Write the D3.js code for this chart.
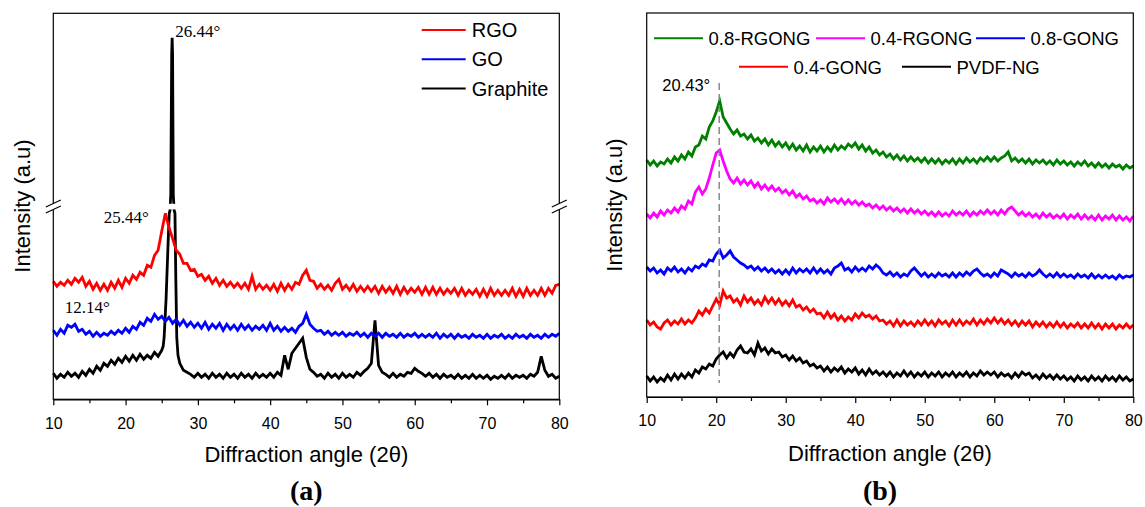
<!DOCTYPE html>
<html>
<meta charset="utf-8">
<script src="https://d3js.org/d3.v7.min.js"></script>
<style>
  body { margin: 0; background: #fff; }
  svg text { font-family: "Liberation Sans", Arial, sans-serif; fill: #000; }
</style>
<body>
<div id="chart"></div>
<script>

// every scan is sampled on the same 2θ grid: 10° to 80° in 0.5° steps
var angleStart = 10, angleStep = 0.5;
var majorTicks = [10, 20, 30, 40, 50, 60, 70, 80];
var minorTicks = [15, 25, 35, 45, 55, 65, 75];

// ---- (a) intensities (a.u.) ----
var rgo = [
  118,113,117,114,119,115,121,117,122,113,
  118,110,116,109,115,109,117,111,119,112,
  121,116,124,120,127,124,134,132,144,149,
  168,186,172,161,149,145,136,136,129,130,
  123,125,119,123,116,121,114,119,113,117,
  112,116,111,116,110,123,110,115,110,114,
  109,115,108,116,109,115,110,117,115,124,
  129,119,118,111,115,110,114,109,116,120,
  110,114,109,115,108,113,108,113,108,113,
  106,113,107,112,106,113,105,112,106,111,
  107,112,105,112,105,112,105,111,105,110,
  106,111,104,111,104,109,105,110,103,110,
  103,111,104,109,104,109,104,111,103,110,
  103,111,104,109,104,111,104,111,106,114,
  115
];
var go = [
  69,64,70,66,74,72,75,68,70,65,
  68,63,67,63,66,64,68,65,69,66,
  71,67,73,70,77,74,81,78,85,80,
  83,78,82,76,80,74,79,73,77,72,
  76,71,77,70,75,71,76,69,75,70,
  74,69,75,70,74,69,73,70,74,69,
  76,69,73,68,72,68,71,67,73,76,
  85,75,71,68,69,65,68,64,67,64,
  67,63,66,64,67,63,66,62,66,63,
  66,62,66,63,65,62,66,62,65,63,
  66,62,65,62,65,62,66,61,65,62,
  65,61,65,62,64,61,65,62,64,61,
  65,61,64,62,65,61,64,61,65,62,
  64,61,65,62,64,61,65,62,65,63,
  66
];
var graphite = [
  26,21,25,22,27,23,26,22,28,24,
  30,26,33,29,36,33,39,35,41,37,
  43,38,44,39,45,40,44,41,47,43,
  49,49,49,49,49,36,29,27,25,22,
  26,22,25,21,26,22,25,21,26,22,
  25,21,26,22,25,21,26,22,25,22,
  26,22,27,24,44,30,46,51,56,61,
  42,30,27,23,25,21,26,22,25,21,
  26,22,25,22,27,24,28,31,36,79,
  34,27,25,22,26,22,25,23,27,26,
  31,28,26,23,26,22,25,21,25,22,
  24,21,25,21,24,21,25,21,24,21,
  24,20,23,21,24,21,25,21,24,22,
  24,21,25,23,27,43,29,23,25,21,
  23
];
// sharp (002) graphite reflection, [2θ, intensity]; replaces the grid between 25.4° and 27.4°
var graphitePeak = [
  [25.2, 53], [25.33, 62], [25.6, 100], [25.85, 150], [26.04, 186], [26.15, 190],
  [26.25, 430], [26.38, 950], [26.44, 1010], [26.5, 950], [26.6, 430],
  [26.72, 190], [26.83, 186], [26.95, 120], [27.08, 62], [27.25, 44]
];

// ---- (b) ----
var rgong08 = [
  237,232,236,231,235,233,238,234,240,236,
  242,238,245,241,250,252,261,258,270,276,
  285,296,280,274,268,263,267,261,263,258,
  262,256,259,254,258,252,257,251,255,250,
  254,248,253,247,251,246,252,245,250,246,
  251,245,250,246,252,247,251,248,253,250,
  254,248,252,246,250,244,247,242,245,240,
  243,238,242,237,241,236,240,236,239,235,
  239,234,238,234,238,233,237,234,238,233,
  238,234,239,235,238,234,239,236,240,236,
  240,236,239,241,245,236,239,235,238,234,
  238,233,237,234,237,233,236,232,237,233,
  236,232,235,231,235,232,236,231,234,230,
  234,230,233,229,233,230,232,228,232,229,
  231
];
var rgong04 = [
  183,179,184,180,186,182,187,184,189,185,
  191,188,196,193,205,210,203,208,219,232,
  244,247,236,226,218,214,219,213,217,212,
  216,210,214,208,212,207,211,206,209,204,
  207,202,206,200,203,198,201,196,198,194,
  197,193,199,195,198,194,198,193,197,193,
  196,192,195,191,193,189,192,188,191,187,
  190,186,189,185,188,184,188,184,187,183,
  186,182,185,181,185,181,184,181,186,182,
  185,182,186,181,185,182,186,183,187,183,
  186,182,187,183,188,190,186,182,185,181,
  184,180,183,179,184,180,183,179,182,179,
  183,178,182,179,183,178,182,178,181,177,
  182,177,181,178,182,177,181,177,180,176,
  181
];
var gong08 = [
  130,126,129,124,127,123,129,126,130,125,
  128,124,129,126,131,129,133,131,137,136,
  143,147,139,142,146,140,137,134,132,129,
  131,127,130,126,129,125,128,124,127,123,
  127,123,129,124,128,125,128,124,129,124,
  128,124,127,123,129,131,134,127,129,125,
  130,126,129,126,131,128,132,129,124,122,
  125,121,124,120,123,121,126,129,125,121,
  124,120,123,120,124,121,123,120,124,120,
  124,121,125,122,126,128,124,121,123,120,
  124,121,127,125,123,120,124,121,123,120,
  124,121,123,127,123,120,123,120,124,120,
  123,120,122,119,123,120,122,119,123,119,
  122,119,122,119,121,118,122,119,121,120,
  122
];
var gong04 = [
  77,72,75,70,68,74,77,72,76,73,
  78,73,77,74,79,86,82,88,84,91,
  98,92,106,99,101,95,98,92,101,95,
  99,93,97,92,100,94,99,93,98,92,
  96,91,97,90,92,87,90,85,88,83,
  84,79,85,79,83,77,81,76,80,77,
  83,79,84,80,82,78,81,76,77,73,
  76,71,77,71,76,72,75,71,76,72,
  77,72,76,71,77,73,76,71,77,72,
  77,72,76,73,78,72,77,73,78,74,
  79,74,78,73,77,72,76,71,76,72,
  76,70,75,71,75,70,74,70,75,70,
  74,69,73,70,74,69,73,69,74,69,
  73,68,73,69,73,68,72,69,73,69,
  72
];
var pvdfng = [
  21,16,20,15,19,16,22,17,23,18,
  23,19,24,20,27,24,30,28,33,31,
  38,42,45,39,44,40,47,51,45,44,
  48,42,54,46,49,43,48,44,45,40,
  42,37,41,36,39,34,36,31,33,29,
  31,26,30,25,29,26,30,24,28,25,
  29,23,27,22,28,23,26,22,25,21,
  25,20,24,21,26,21,25,20,24,21,
  25,20,24,21,25,20,24,21,25,20,
  24,21,25,20,24,21,26,22,25,22,
  25,20,24,21,23,19,24,20,25,22,
  24,19,22,18,23,19,22,18,22,18,
  21,17,20,16,21,17,20,16,21,17,
  20,16,21,17,20,16,21,17,20,16,
  18
];

var namesA = ["RGO", "GO", "Graphite"];
var colorsA = ["#ff0000", "#0000ff", "#000000"];
var namesB = ["0.8-RGONG", "0.4-RGONG", "0.8-GONG", "0.4-GONG", "PVDF-NG"];
var colorsB = ["#008000", "#ff00ff", "#0000ff", "#ff0000", "#000000"];

function toPoints(values) {
  return values.map(function(v, i) { return [angleStart + i * angleStep, v]; });
}

var graphitePts = toPoints(graphite)
  .filter(function(d) { return d[0] < 25.1 || d[0] > 27.4; })
  .concat(graphitePeak)
  .sort(function(a, b) { return a[0] - b[0]; });

var seriesA = [toPoints(rgo), toPoints(go), graphitePts];
var seriesB = [toPoints(rgong08), toPoints(rgong04), toPoints(gong08), toPoints(gong04), toPoints(pvdfng)];

var svg = d3.select("#chart").append("svg")
  .attr("width", 1145)
  .attr("height", 507);

// scales: panel (a) has a broken y axis
var xA = d3.scaleLinear().domain([10, 80]).range([53.3, 559.3]);
var yA = d3.scaleLinear().domain([0, 189, 400, 1100]).range([399.3, 210.3, 203, 13.3]);
var xB = d3.scaleLinear().domain([10, 80]).range([646.7, 1133.3]);
var yB = d3.scaleLinear().domain([0, 384]).range([397, 13]);

function drawLines(series, colors, x, y) {
  var line = d3.line().x(function(d) { return x(d[0]); }).y(function(d) { return y(d[1]); });
  svg.append("g").selectAll("path")
    .data(series.slice().reverse())
    .enter().append("path")
      .attr("d", line)
      .attr("fill", "none")
      .attr("stroke", function(d, i) { return colors[series.length - 1 - i]; })
      .attr("stroke-width", 2.8)
      .attr("stroke-linejoin", "miter");
}

function drawAxis(x, y) {
  var bottom = y.range()[0];
  var g = svg.append("g").attr("transform", "translate(0," + bottom + ")");
  g.call(d3.axisBottom(x).tickValues(majorTicks).tickSize(6).tickSizeOuter(0).tickPadding(12));
  g.selectAll("text").attr("font-size", 16).attr("font-family", "Liberation Sans, Arial, sans-serif");
  g.selectAll("line, path").attr("stroke", "#000").attr("stroke-width", 1.2);
  var m = svg.append("g").attr("transform", "translate(0," + bottom + ")");
  m.call(d3.axisBottom(x).tickValues(minorTicks).tickSize(4).tickSizeOuter(0).tickFormat(""));
  m.selectAll("line").attr("stroke", "#000").attr("stroke-width", 1.2);
  m.select(".domain").remove();

  var r = x.range(), top = y.range()[y.range().length - 1];
  svg.append("rect")
    .attr("x", r[0]).attr("y", top)
    .attr("width", r[1] - r[0]).attr("height", bottom - top)
    .attr("fill", "none").attr("stroke", "#000").attr("stroke-width", 1.2);
}

// ---------- panel (a) ----------
drawLines(seriesA, colorsA, xA, yA);

// gap in the plot where the intensity axis is broken
svg.append("rect")
  .attr("x", xA(10) + 1).attr("y", 203.8)
  .attr("width", xA(80) - xA(10) - 2).attr("height", 5.6)
  .attr("fill", "#fff");

drawAxis(xA, yA);

// break marks on both sides
[xA(10), xA(80)].forEach(function(x0) {
  svg.append("rect").attr("x", x0 - 2).attr("y", 203.5).attr("width", 4).attr("height", 6).attr("fill", "#fff");
  [203.5, 209.5].forEach(function(yy) {
    svg.append("line")
      .attr("x1", x0 - 7.5).attr("y1", yy + 3.5)
      .attr("x2", x0 + 7.5).attr("y2", yy - 3.5)
      .attr("stroke", "#000").attr("stroke-width", 1.2);
  });
});

// peak labels
var serif = "Liberation Serif, Times New Roman, serif";
svg.append("text").attr("x", xA(26.44) + 3).attr("y", yA(1010) - 1)
  .style("font-family", serif).attr("font-size", 17).text("26.44°");
svg.append("text").attr("x", xA(25.44) - 16).attr("y", yA(186) + 10)
  .attr("text-anchor", "end")
  .style("font-family", serif).attr("font-size", 17).text("25.44°");
svg.append("text").attr("x", xA(12.14) - 4).attr("y", yA(74) - 12)
  .style("font-family", serif).attr("font-size", 17).text("12.14°");

// legend (a)
namesA.forEach(function(name, i) {
  var yy = 30 + i * 29.2;
  svg.append("line").attr("x1", 421.7).attr("x2", 465.7).attr("y1", yy).attr("y2", yy)
    .attr("stroke", colorsA[i]).attr("stroke-width", 2);
  svg.append("text").attr("x", 471.7).attr("y", yy + 7.2).attr("font-size", 20).text(name);
});

// axis titles (a)
svg.append("text").attr("x", 306.3).attr("y", 461.5).attr("text-anchor", "middle")
  .attr("font-size", 22).text("Diffraction angle (2θ)");
svg.append("text").attr("transform", "translate(30,206) rotate(-90)").attr("text-anchor", "middle")
  .attr("font-size", 22).text("Intensity (a.u)");
svg.append("text").attr("x", 306.3).attr("y", 500).attr("text-anchor", "middle")
  .style("font-family", serif).attr("font-weight", "bold").attr("font-size", 28).text("(a)");

// ---------- panel (b) ----------
drawLines(seriesB, colorsB, xB, yB);

// dashed guide at the PVDF reflection
svg.append("line")
  .attr("x1", xB(20.43)).attr("x2", xB(20.43))
  .attr("y1", yB(314)).attr("y2", yB(14))
  .attr("stroke", "#808080").attr("stroke-width", 1.4).attr("stroke-dasharray", "7,4");
svg.append("text").attr("x", xB(20.43) - 9).attr("y", 91).attr("text-anchor", "end")
  .attr("font-size", 16.5).text("20.43°");

drawAxis(xB, yB);

// legend (b): two rows
var legendB = [
  { x: 654, y: 38.3 }, { x: 816, y: 38.3 }, { x: 976, y: 38.3 },
  { x: 739, y: 66.7 }, { x: 902, y: 66.7 }
];
namesB.forEach(function(name, i) {
  var p = legendB[i];
  svg.append("line").attr("x1", p.x).attr("x2", p.x + 49).attr("y1", p.y).attr("y2", p.y)
    .attr("stroke", colorsB[i]).attr("stroke-width", 2);
  svg.append("text").attr("x", p.x + 54.5).attr("y", p.y + 7).attr("font-size", 18.5).text(name);
});

svg.append("text").attr("x", 890).attr("y", 460.5).attr("text-anchor", "middle")
  .attr("font-size", 22).text("Diffraction angle (2θ)");
svg.append("text").attr("transform", "translate(622,205) rotate(-90)").attr("text-anchor", "middle")
  .attr("font-size", 22).text("Intensity (a.u)");
svg.append("text").attr("x", 880).attr("y", 500).attr("text-anchor", "middle")
  .style("font-family", serif).attr("font-weight", "bold").attr("font-size", 28).text("(b)");

</script>
</body>
</html>
